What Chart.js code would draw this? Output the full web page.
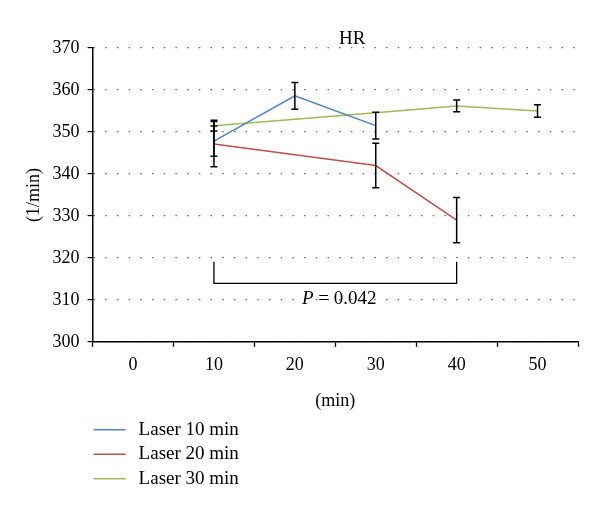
<!DOCTYPE html>
<html>
<head>
<meta charset="utf-8">
<script src="https://cdn.jsdelivr.net/npm/chart.js@4.4.1/dist/chart.umd.min.js"></script>
<style>
  html, body { margin: 0; padding: 0; background: #fff; }
  #wrap { width: 600px; height: 513px; }
</style>
</head>
<body>
<div id="wrap"><canvas id="hrChart" width="600" height="513"></canvas></div>
<script>
// Datos
const minutos = ['0', '10', '20', '30', '40', '50'];
const nombresSeries = ['Laser 10 min', 'Laser 20 min', 'Laser 30 min'];
const coloresSeries = ['#4F81BD', '#C0504D', '#9BBB59'];

const laser10 = [null, 347.8, 358.6, 351.5, null, null];
const laser10Err = [null, 3.6, 3.2, 3.2, null, null];
const laser20 = [null, 347.1, null, 342.0, 329.0, null];
const laser20Err = [null, 5.4, null, 5.3, 5.4, null];
const laser30 = [null, 351.5, null, 354.6, 356.2, 355.0];
const laser30Err = [null, 1.3, null, 0, 1.4, 1.5];

const yTicks = [300, 310, 320, 330, 340, 350, 360, 370];

// Corchete de significancia
const corcheteDesde = '10';
const corcheteHasta = '40';
const corcheteArriba = 319.1;
const corcheteAbajo = 313.9;
const textoP = '0.042';
const textoPValor = 310.3;

const fuente = "'Liberation Serif', 'DejaVu Serif', serif";

const series = [laser10, laser20, laser30];
const errores = [laser10Err, laser20Err, laser30Err];

// Barras de error
const barrasError = {
    id: 'barrasError',
    afterDatasetsDraw(chart) {
        const ctx = chart.ctx;
        const x = chart.scales.x;
        const y = chart.scales.y;
        ctx.save();
        ctx.strokeStyle = '#000';
        ctx.lineWidth = 1.5;
        chart.data.datasets.forEach((ds, d) => {
            ds.data.forEach((v, i) => {
                const e = errores[d][i];
                if (v === null || !e) return;
                const px = x.getPixelForValue(i);
                const y1 = y.getPixelForValue(v + e);
                const y2 = y.getPixelForValue(v - e);
                ctx.beginPath();
                ctx.moveTo(px, y1); ctx.lineTo(px, y2);
                ctx.moveTo(px - 3.5, y1); ctx.lineTo(px + 3.5, y1);
                ctx.moveTo(px - 3.5, y2); ctx.lineTo(px + 3.5, y2);
                ctx.stroke();
            });
        });
        ctx.restore();
    }
};

// Corchete, título y leyenda
const extras = {
    id: 'extras',
    afterDraw(chart) {
        const ctx = chart.ctx;
        const x = chart.scales.x;
        const y = chart.scales.y;
        const area = chart.chartArea;
        ctx.save();

        // corchete
        const xa = x.getPixelForValue(minutos.indexOf(corcheteDesde));
        const xb = x.getPixelForValue(minutos.indexOf(corcheteHasta));
        const ya = y.getPixelForValue(corcheteArriba);
        const yb = y.getPixelForValue(corcheteAbajo);
        ctx.strokeStyle = '#000';
        ctx.lineWidth = 1.3;
        ctx.beginPath();
        ctx.moveTo(xa, ya); ctx.lineTo(xa, yb); ctx.lineTo(xb, yb); ctx.lineTo(xb, ya);
        ctx.stroke();

        // texto P
        ctx.fillStyle = '#000';
        ctx.textBaseline = 'middle';
        const yp = y.getPixelForValue(textoPValor);
        ctx.font = 'italic 19px ' + fuente;
        const wP = ctx.measureText('P').width;
        ctx.font = '19px ' + fuente;
        const resto = ' = ' + textoP;
        const wR = ctx.measureText(resto).width;
        const x0 = (xa + xb) / 2 - (wP + wR) / 2 + 4;
        ctx.textAlign = 'left';
        ctx.font = 'italic 19px ' + fuente;
        ctx.fillText('P', x0, yp);
        ctx.font = '19px ' + fuente;
        ctx.fillText(resto, x0 + wP, yp);

        // título
        ctx.textAlign = 'center';
        ctx.font = '19px ' + fuente;
        ctx.fillText('HR', area.left + (area.right - area.left) * 0.535, area.top - 9);

        // leyenda
        ctx.textAlign = 'left';
        ctx.font = '19px ' + fuente;
        nombresSeries.forEach((n, i) => {
            const ly = area.bottom + 88 + i * 24.5;
            ctx.strokeStyle = coloresSeries[i];
            ctx.lineWidth = 1.5;
            ctx.beginPath();
            ctx.moveTo(area.left + 1, ly); ctx.lineTo(area.left + 33, ly);
            ctx.stroke();
            ctx.fillStyle = '#000';
            ctx.fillText(n, area.left + 46, ly);
        });
        ctx.restore();
    }
};

new Chart(document.getElementById('hrChart'), {
    type: 'line',
    data: {
        labels: minutos,
        datasets: series.map((s, i) => ({
            label: nombresSeries[i],
            data: s,
            borderColor: coloresSeries[i],
            backgroundColor: coloresSeries[i],
            borderWidth: 1.5,
            pointRadius: 0,
            tension: 0,
            spanGaps: true
        }))
    },
    options: {
        responsive: false,
        animation: false,
        layout: { padding: { left: 23, right: 22, top: 48, bottom: 101 } },
        plugins: {
            legend: { display: false },
            tooltip: { enabled: false }
        },
        scales: {
            x: {
                type: 'category',
                offset: true,
                grid: {
                    display: true,
                    drawOnChartArea: false,
                    drawTicks: true,
                    tickLength: 5,
                    tickColor: '#000',
                    tickWidth: 1.3,
                    offset: true
                },
                border: { display: true, color: '#000', width: 1.5 },
                ticks: { color: '#000', font: { family: fuente, size: 18 }, padding: 8 },
                title: { display: true, text: '(min)', color: '#000', font: { family: fuente, size: 18 }, padding: { top: 6, bottom: 0 } }
            },
            y: {
                min: 300,
                max: 370,
                afterBuildTicks(scale) { scale.ticks = yTicks.map(v => ({ value: v })); },
                grid: {
                    display: true,
                    color: '#666',
                    lineWidth: 1.2,
                    drawTicks: true,
                    tickLength: 5,
                    tickColor: '#000',
                    tickWidth: 1.2,
                    tickBorderDash: []
                },
                border: { display: true, color: '#000', width: 1.5, dash: [1.5, 10.2] },
                ticks: { color: '#000', font: { family: fuente, size: 18 }, padding: 8 },
                title: { display: true, text: '(1/min)', color: '#000', font: { family: fuente, size: 18 }, padding: { top: 0, bottom: 0 } }
            }
        }
    },
    plugins: [barrasError, extras]
});
</script>
</body>
</html>
